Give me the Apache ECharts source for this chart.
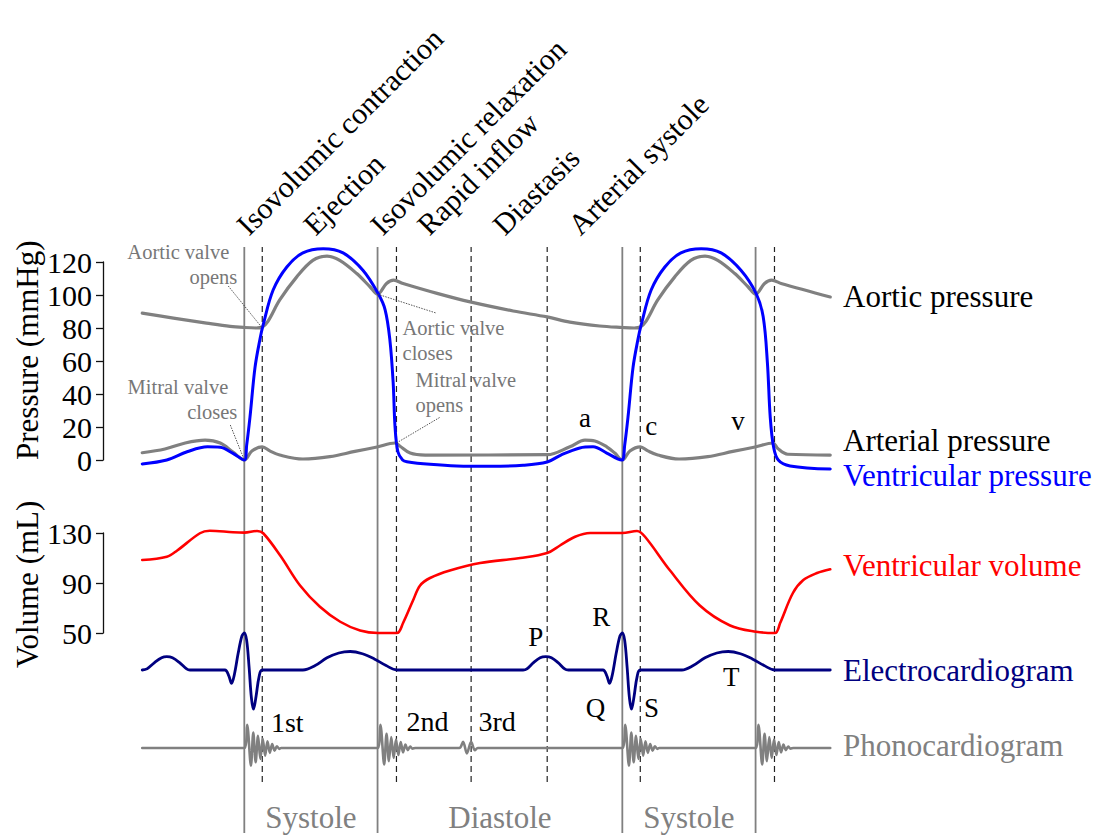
<!DOCTYPE html>
<html>
<head>
<meta charset="utf-8">
<script src="https://cdn.jsdelivr.net/npm/echarts@6/dist/echarts.min.js"></script>
<style>
  html, body { margin: 0; padding: 0; background: #fff; }
  #chart { width: 1093px; height: 838px; }
</style>
</head>
<body>
<div id="chart"></div>
<script>
// Wiggers diagram: two cardiac cycles, time in ms (one cycle = 800 ms, t = 0 at the R wave)
const timeRange = [-216, 1240];

const phaseNames = ['Isovolumic contraction', 'Ejection', 'Isovolumic relaxation',
                    'Rapid inflow', 'Diastasis', 'Arterial systole'];
const phaseBounds = [0, 38, 282, 322, 480, 641, 800];
const solidMarkers = [0, 282, 800, 1082];          // valve events bounding systole
const dashedMarkers = [38, 322, 480, 641, 838, 1122];
const periodNames = ['Systole', 'Diastole', 'Systole'];
const periodBounds = [0, 282, 800, 1082];

const pressureAxis = { min: 0, max: 120, step: 20 };
const volumeTicks = [50, 90, 130];

// [t (ms), mmHg]
const aorticPressure = [
  [-216, 89], [-150, 86], [-80, 83], [-30, 81], [0, 80.3], [25, 80], [38, 80.6], [50, 84],
  [75, 97], [111, 111], [145, 121], [175, 123.6], [202, 121], [238, 113], [266, 105],
  [282, 100.5], [301, 107], [316, 109], [336, 107], [408, 101], [478, 95.8], [569, 90.3],
  [641, 86.7], [689, 83.6], [752, 81.2], [800, 80.3], [825, 80], [838, 80.6], [850, 84],
  [875, 97], [911, 111], [945, 121], [975, 123.6], [1002, 121], [1038, 113], [1066, 105],
  [1082, 100.5], [1101, 107], [1116, 109], [1136, 107], [1240, 98.8]
];
const atrialPressure = [
  [-216, 4.4], [-168, 6.7], [-125, 10.3], [-83, 12], [-51, 10.3], [-24, 4.8], [0, 0],
  [16, 5.5], [38, 8], [54, 5.5], [75, 3], [124, 0.6], [181, 2], [234, 5.2], [281, 7.9],
  [319, 10.3], [329, 8.5], [351, 4.2], [383, 3], [641, 3.2], [689, 8], [721, 12],
  [742, 11.5], [767, 8], [784, 4.2], [800, 0], [816, 5.5], [838, 8], [854, 5.5], [875, 3],
  [920, 0.6], [981, 2], [1034, 5.2], [1081, 7.9], [1119, 10.3], [1129, 7], [1150, 3.5],
  [1240, 3]
];
const ventricularPressure = [
  [-216, -2.4], [-164, 0], [-121, 5], [-78, 8], [-51, 7.7], [-24, 4], [0, 0], [5, 9],
  [12, 26], [22.6, 56], [33, 73], [40, 82], [61, 103], [90, 117], [124, 125.5], [167, 128],
  [209, 125.5], [251, 115], [283, 101], [298, 91], [308, 73], [315, 47], [319, 20], [325, 5],
  [335, 0], [344, -1], [393, -2.6], [450, -3.6], [520, -3.8], [590, -3.2], [641, -1.2],
  [670, 3], [710, 7.3], [738, 8], [767, 4.2], [790, 0.7], [800, 0], [805, 9], [812, 26],
  [822.6, 56], [833, 73], [840, 82], [861, 103], [890, 117], [924, 125.5], [967, 128],
  [1009, 125.5], [1051, 115], [1083, 101], [1098, 87], [1107, 59], [1113, 26], [1120, 8],
  [1130, 0], [1155, -3.6], [1240, -5.5]
];
// [t (ms), mL]
const ventricularVolume = [
  [-216, 108.4], [-164, 111], [-142, 116], [-94, 129.8], [-73, 131.8], [-24, 130.6],
  [0, 130.3], [27, 131.6], [40, 129.8], [76, 112], [118, 88], [160, 71], [203, 59],
  [245, 52], [283, 50], [323, 50], [336, 58], [357, 76], [372, 88], [393, 94], [435, 100],
  [499, 106], [584, 110], [641, 114], [668, 120], [700, 127], [732, 130], [800, 130],
  [831, 131.6], [848, 127], [901, 100], [964, 72], [1028, 56], [1083, 51], [1123, 50],
  [1134, 58], [1161, 82], [1183, 92.4], [1212, 98], [1240, 101]
];
// [t (ms), mV]
const electrocardiogram = [
  [-216, 0], [-206, 0.03], [-190, 0.2], [-175, 0.33], [-164, 0.36], [-152, 0.33],
  [-137, 0.2], [-122, 0.03], [-115, 0], [-41, 0], [-33, -0.15], [-27, -0.36], [-21, -0.12],
  [-13, 0.45], [-5, 0.92], [0, 1], [5, 0.8], [10, 0.1], [15, -0.75], [19.5, -1.06],
  [25, -0.7], [31, -0.2], [38, 0], [124, 0], [150, 0.12], [175, 0.33], [200, 0.46],
  [224, 0.5], [250, 0.44], [275, 0.3], [300, 0.12], [323, 0], [590, 0], [598, 0.03],
  [612, 0.2], [626, 0.33], [638, 0.36], [650, 0.33], [664, 0.2], [678, 0.03], [686, 0],
  [759, 0], [767, -0.15], [773, -0.36], [779, -0.12], [787, 0.45], [795, 0.92], [800, 1],
  [805, 0.8], [810, 0.1], [815, -0.75], [819.5, -1.06], [825, -0.7], [831, -0.2], [838, 0],
  [926, 0], [950, 0.12], [975, 0.33], [1000, 0.46], [1024, 0.5], [1050, 0.44], [1075, 0.3],
  [1100, 0.12], [1123, 0], [1240, 0]
];
// [t (ms), relative amplitude]
const phonocardiogram = [
  [-216, 0], [0, 0], [6, 1.05], [14, -0.8], [19, 0.7], [24, -0.65], [29, 0.55], [34, -0.5],
  [39, 0.42], [44, -0.35], [49, 0.3], [54, -0.22], [59, 0.18], [64, -0.12], [69, 0.08],
  [74, -0.04], [78, 0],
  [282, 0], [288, 1.05], [296, -0.75], [301, 0.65], [306, -0.6], [311, 0.5], [316, -0.45],
  [321, 0.38], [326, -0.32], [331, 0.27], [336, -0.2], [341, 0.16], [346, -0.1], [351, 0.07],
  [356, -0.03], [362, 0],
  [455, 0], [463, 0.28], [471, -0.25], [480, 0.28], [488, -0.1], [494, 0],
  [800, 0], [806, 1.05], [814, -0.8], [819, 0.7], [824, -0.65], [829, 0.55], [834, -0.5],
  [839, 0.42], [844, -0.35], [849, 0.3], [854, -0.22], [859, 0.18], [864, -0.12], [869, 0.08],
  [874, -0.04], [878, 0],
  [1082, 0], [1088, 1.05], [1096, -0.75], [1101, 0.65], [1106, -0.6], [1111, 0.5], [1116, -0.45],
  [1121, 0.38], [1126, -0.32], [1131, 0.27], [1136, -0.2], [1141, 0.16], [1146, -0.1],
  [1151, 0.07], [1156, -0.03], [1162, 0],
  [1240, 0]
];

const SERIF = 'Liberation Serif';
const GRAY = '#808080';

const plotLeft = 142.24, plotWidth = 688;
// 0: event markers, 1: pressure, 2: volume, 3: ECG, 4: phonocardiogram
const grids = [
  { left: plotLeft, width: plotWidth, top: 247, height: 586 },
  { left: plotLeft, width: plotWidth, top: 262, height: 198 },
  { left: plotLeft, width: plotWidth, top: 533, height: 100 },
  { left: plotLeft, width: plotWidth, top: 633, height: 74 },
  { left: plotLeft, width: plotWidth, top: 726, height: 44 }
];

const xAxes = grids.map((g, i) => ({
  type: 'value', gridIndex: i, min: timeRange[0], max: timeRange[1], show: false
}));

const axisCommon = {
  type: 'value',
  position: 'left',
  offset: plotLeft - 103,
  splitLine: { show: false },
  axisLine: { show: true, onZero: false, lineStyle: { color: '#111', width: 1.3 } },
  axisTick: { show: true, inside: false, length: 7, lineStyle: { color: '#111', width: 1.3 } },
  axisLabel: { color: '#000', fontSize: 30, fontFamily: SERIF, margin: 11 }
};

const yAxes = [
  { type: 'value', gridIndex: 0, min: 0, max: 1, show: false },
  Object.assign({}, axisCommon, {
    gridIndex: 1, min: pressureAxis.min, max: pressureAxis.max, interval: pressureAxis.step
  }),
  Object.assign({}, axisCommon, {
    gridIndex: 2, min: volumeTicks[0], max: volumeTicks[volumeTicks.length - 1], interval: 40,
    axisTick: Object.assign({}, axisCommon.axisTick, { customValues: volumeTicks }),
    axisLabel: Object.assign({}, axisCommon.axisLabel, { customValues: volumeTicks })
  }),
  { type: 'value', gridIndex: 3, min: -1, max: 1, show: false },
  { type: 'value', gridIndex: 4, min: -1, max: 1, show: false }
];

function markerSeries(t, dashed) {
  return {
    type: 'line', xAxisIndex: 0, yAxisIndex: 0, symbol: 'none', silent: true, z: 1,
    data: [[t, dashed ? 0.087 : 0], [t, 1]],
    lineStyle: dashed ? { color: '#222', width: 1.2, type: [6, 4] } : { color: GRAY, width: 1.8 }
  };
}

function curve(name, data, gridIndex, color, width, smooth, z) {
  return {
    name, type: 'line', data, xAxisIndex: gridIndex, yAxisIndex: gridIndex,
    symbol: 'none', smooth, clip: false, silent: true, z,
    lineStyle: { color, width, cap: 'round', join: 'round' }
  };
}

const series = [
  ...solidMarkers.map(t => markerSeries(t, false)),
  ...dashedMarkers.map(t => markerSeries(t, true)),
  curve('Aortic pressure', aorticPressure, 1, GRAY, 3.2, 0.35, 3),
  curve('Arterial pressure', atrialPressure, 1, GRAY, 3.2, 0.35, 3),
  curve('Ventricular pressure', ventricularPressure, 1, '#0000ff', 3, 0.35, 4),
  curve('Ventricular volume', ventricularVolume, 2, '#ff0000', 2.6, 0.35, 4),
  curve('Electrocardiogram', electrocardiogram, 3, '#000080', 2.8, 0.35, 4),
  curve('Phonocardiogram', phonocardiogram, 4, GRAY, 2.6, 0.3, 4)
];

const chart = echarts.init(document.getElementById('chart'), null, { renderer: 'svg' });
chart.setOption({
  animation: false,
  backgroundColor: '#fff',
  grid: grids, xAxis: xAxes, yAxis: yAxes, series
});

const px = (g, t, v) => chart.convertToPixel({ gridIndex: g }, [t, v]);

function text(str, x, y, opts) {
  const o = Object.assign({ size: 31, color: '#000', align: 'left', valign: 'middle', rotation: 0 }, opts);
  return {
    type: 'text', x, y, rotation: o.rotation, silent: true, z: 10,
    style: {
      text: str, fill: o.color, fontSize: o.size, fontFamily: SERIF,
      align: o.align, textAlign: o.align, verticalAlign: o.valign, textVerticalAlign: o.valign
    }
  };
}
function leader(p, q) {
  return {
    type: 'line', silent: true, z: 9,
    shape: { x1: p[0], y1: p[1], x2: q[0], y2: q[1] },
    style: { stroke: '#444', lineWidth: 0.9, lineDash: [1.5, 1.2] }
  };
}

const els = [];

// phase names, rotated above each interval
phaseNames.forEach((name, i) => {
  const mid = (phaseBounds[i] + phaseBounds[i + 1]) / 2;
  const p = px(0, mid, 1);
  els.push(text(name, p[0] - 1, 240, { size: 30, rotation: Math.PI / 4, valign: 'bottom' }));
});

// systole / diastole along the bottom
periodNames.forEach((name, i) => {
  const mid = (periodBounds[i] + periodBounds[i + 1]) / 2;
  const p = px(0, mid, 0);
  els.push(text(name, p[0], 817, { color: GRAY, align: 'center' }));
});

// valve events: two-line notes with a dotted pointer
const note = { size: 20.5, color: '#777' };
let e = px(1, 38, 80);
els.push(text('Aortic valve', e[0] - 33, e[1] - 76, Object.assign({ align: 'right' }, note)));
els.push(text('opens', e[0] - 25, e[1] - 51, Object.assign({ align: 'right' }, note)));
els.push(leader([e[0] - 34, e[1] - 42], e));
e = px(1, 0, 0);
els.push(text('Mitral valve', e[0] - 16, e[1] - 73, Object.assign({ align: 'right' }, note)));
els.push(text('closes', e[0] - 7, e[1] - 48, Object.assign({ align: 'right' }, note)));
els.push(leader([e[0] - 14, e[1] - 35], e));
e = px(1, 282, 100.5);
els.push(text('Aortic valve', e[0] + 25, e[1] + 34, note));
els.push(text('closes', e[0] + 25, e[1] + 59, note));
els.push(leader(e, [e[0] + 59, e[1] + 19]));
e = px(1, 322, 10.3);
els.push(text('Mitral valve', e[0] + 19, e[1] - 63, note));
els.push(text('opens', e[0] + 19, e[1] - 38, note));
els.push(leader(e, [e[0] + 44, e[1] - 26]));

// atrial waves
const small = { size: 27, align: 'center' };
e = px(1, 721, 12);    els.push(text('a', e[0], e[1] - 22, small));
e = px(1, 838, 8);     els.push(text('c', e[0] + 11, e[1] - 21, small));
e = px(1, 1119, 10.3); els.push(text('v', e[0] - 35, e[1] - 22, small));

// ECG waves
e = px(3, 638, 0.36);    els.push(text('P', e[0] - 10, e[1] - 20, small));
e = px(3, 800, 1);       els.push(text('R', e[0] - 21, e[1] - 16, small));
e = px(3, 773, -0.36);   els.push(text('Q', e[0] - 14, e[1] + 25, small));
e = px(3, 819.5, -1.06); els.push(text('S', e[0] + 20, e[1] - 1, small));
e = px(3, 1024, 0.5);    els.push(text('T', e[0] + 3, e[1] + 25, small));

// heart sounds
const snd = { size: 28, align: 'center' };
e = px(4, 0, 0);   els.push(text('1st', e[0] + 43, e[1] - 26, snd));
e = px(4, 282, 0); els.push(text('2nd', e[0] + 50, e[1] - 27, snd));
e = px(4, 480, 0); els.push(text('3rd', e[0] + 26, e[1] - 27, snd));

// curve names on the right
const rx = 843;
els.push(text('Aortic pressure', rx, 296));
els.push(text('Arterial pressure', rx, 440));
els.push(text('Ventricular pressure', rx, 475, { color: '#0000ff' }));
els.push(text('Ventricular volume', rx, 565, { color: '#ff0000' }));
els.push(text('Electrocardiogram', rx, 670, { color: '#000080' }));
els.push(text('Phonocardiogram', rx, 745, { color: GRAY }));

// axis titles
els.push(text('Pressure (mmHg)', 27, 460, { rotation: Math.PI / 2 }));
els.push(text('Volume (mL)', 27, 668, { rotation: Math.PI / 2 }));

chart.setOption({ graphic: { elements: els } });
</script>
</body>
</html>
